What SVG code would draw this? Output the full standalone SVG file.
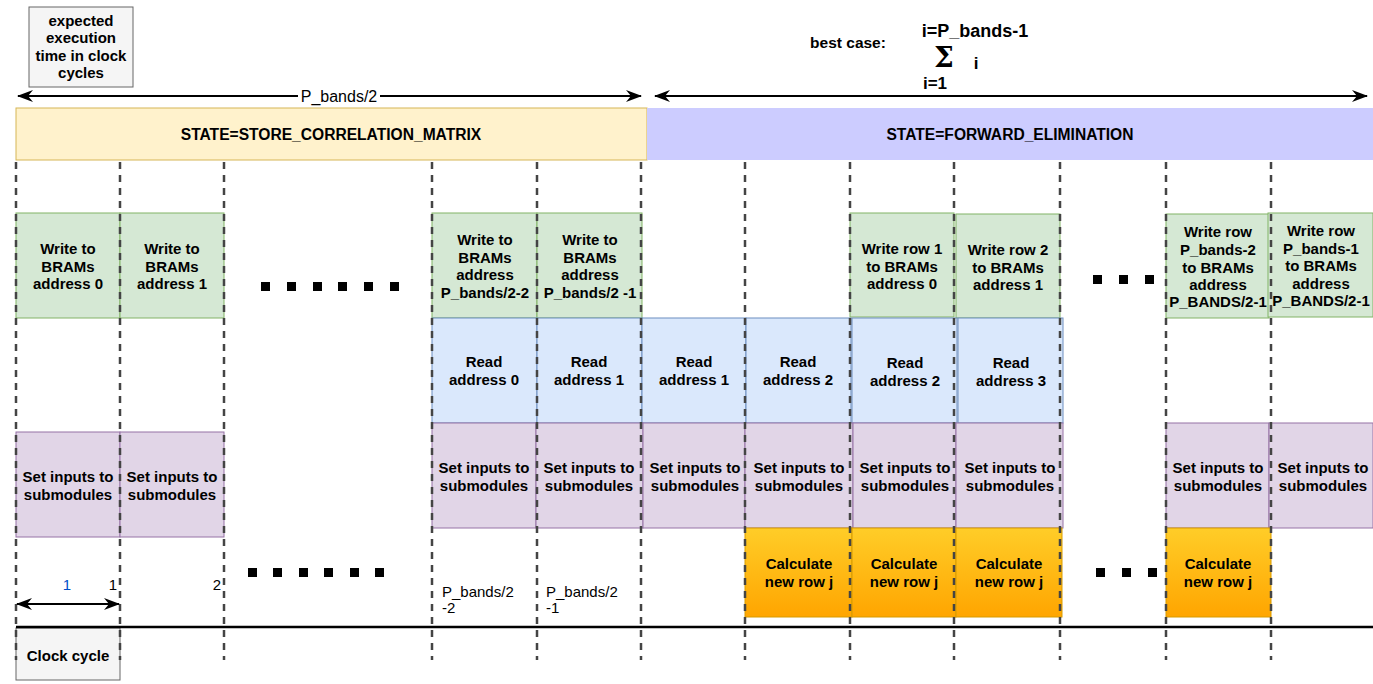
<svg xmlns="http://www.w3.org/2000/svg" width="1373" height="684" viewBox="0 0 1373 684">
<defs>
<style>
text{font-family:"Liberation Sans",Arial,sans-serif;}
.b{font-weight:bold;font-size:15px;fill:#000;text-anchor:middle;}
.n{font-size:15px;fill:#000;}
.g{fill:#d5e8d4;stroke:#82b366;stroke-width:1;}
.bl{fill:#dae8fc;stroke:#6c8ebf;stroke-width:1;}
.p{fill:#e1d5e7;stroke:#9673a6;stroke-width:1;}
.o{fill:url(#og);stroke:#d79b00;stroke-width:1;}
.gr{fill:#f5f5f5;stroke:#666666;stroke-width:1;}
.d{stroke:#444444;stroke-width:2.5;stroke-dasharray:7 6;fill:none;}
.a{stroke:#000;stroke-width:2;fill:none;}
.dot{fill:#000;}
</style>
<linearGradient id="og" x1="0" y1="0" x2="0" y2="1">
<stop offset="0" stop-color="#ffcd28"/>
<stop offset="1" stop-color="#ffa500"/>
</linearGradient>
<marker id="ah2" viewBox="0 0 16 12" refX="15" refY="6" markerWidth="16" markerHeight="12" markerUnits="userSpaceOnUse" orient="auto-start-reverse">
<path d="M0,0 L16,6 L0,12 L5,6 Z" fill="#000"/>
</marker>
</defs>

<g id="states">
<rect x="16" y="108" width="631" height="52" fill="#fff2cc" stroke="#d6b656"/>
<text class="b" x="331" y="140" style="font-size:15.6px">STATE=STORE_CORRELATION_MATRIX</text>
<rect x="647" y="108" width="726" height="52" fill="#ccccff"/>
<text class="b" x="1010" y="140" style="font-size:15.6px">STATE=FORWARD_ELIMINATION</text>
</g>

<g id="exp-time">
<rect class="gr" x="29" y="7" width="104" height="80"/>
<text class="b" x="81" y="26">expected</text>
<text class="b" x="81" y="43">execution</text>
<text class="b" x="81" y="61">time in clock</text>
<text class="b" x="81" y="78">cycles</text>
</g>

<g id="best-case">
<text class="b" x="848" y="48" style="font-size:15.5px">best case:</text>
<text class="b" x="975" y="37" style="font-size:18px">i=P_bands-1</text>
<text x="944" y="67" style="font-size:28px;font-weight:bold;font-family:'DejaVu Serif',serif" text-anchor="middle">Σ</text>
<text class="b" x="976" y="69" style="font-size:17px">i</text>
<text class="b" x="935" y="89" style="font-size:17px">i=1</text>
</g>

<g id="w0"><rect class="g" x="16" y="213" width="104" height="105"/>
<text class="b" x="68" y="254">Write to</text><text class="b" x="68" y="272">BRAMs</text><text class="b" x="68" y="289">address 0</text></g>
<g id="w1"><rect class="g" x="120" y="213" width="104" height="105"/>
<text class="b" x="172" y="254">Write to</text><text class="b" x="172" y="272">BRAMs</text><text class="b" x="172" y="289">address 1</text></g>
<g id="w2"><rect class="g" x="432" y="213" width="105" height="105"/>
<text class="b" x="485" y="245">Write to</text><text class="b" x="485" y="263">BRAMs</text><text class="b" x="485" y="280">address</text><text class="b" x="485" y="298">P_bands/2-2</text></g>
<g id="w3"><rect class="g" x="537" y="213" width="105" height="105"/>
<text class="b" x="590" y="245">Write to</text><text class="b" x="590" y="263">BRAMs</text><text class="b" x="590" y="280">address</text><text class="b" x="590" y="298">P_bands/2 -1</text></g>
<g id="wr1"><rect class="g" x="850" y="213" width="104" height="104"/>
<text class="b" x="902" y="254">Write row 1</text><text class="b" x="902" y="272">to BRAMs</text><text class="b" x="902" y="289">address 0</text></g>
<g id="wr2"><rect class="g" x="956" y="214" width="104" height="104"/>
<text class="b" x="1008" y="255">Write row 2</text><text class="b" x="1008" y="273">to BRAMs</text><text class="b" x="1008" y="290">address 1</text></g>
<g id="wr3"><rect class="g" x="1166" y="214" width="103" height="104"/>
<text class="b" x="1218" y="237">Write row</text><text class="b" x="1218" y="255">P_bands-2</text><text class="b" x="1218" y="273">to BRAMs</text><text class="b" x="1218" y="290">address</text><text class="b" x="1218" y="307">P_BANDS/2-1</text></g>
<g id="wr4"><rect class="g" x="1268" y="213" width="105" height="104"/>
<text class="b" x="1321" y="236">Write row</text><text class="b" x="1321" y="254">P_bands-1</text><text class="b" x="1321" y="271">to BRAMs</text><text class="b" x="1321" y="289">address</text><text class="b" x="1321" y="306">P_BANDS/2-1</text></g>

<g id="r0"><rect class="bl" x="432" y="318" width="105" height="105"/><text class="b" x="484" y="367">Read</text><text class="b" x="484" y="385">address 0</text></g>
<g id="r1"><rect class="bl" x="537" y="318" width="105" height="105"/><text class="b" x="589" y="367">Read</text><text class="b" x="589" y="385">address 1</text></g>
<g id="r2"><rect class="bl" x="642" y="318" width="104" height="105"/><text class="b" x="694" y="367">Read</text><text class="b" x="694" y="385">address 1</text></g>
<g id="r3"><rect class="bl" x="746" y="318" width="105" height="105"/><text class="b" x="798" y="367">Read</text><text class="b" x="798" y="385">address 2</text></g>
<g id="r4"><rect class="bl" x="852" y="318" width="105" height="105"/><text class="b" x="905" y="368">Read</text><text class="b" x="905" y="386">address 2</text></g>
<g id="r5"><rect class="bl" x="958" y="318" width="105" height="105"/><text class="b" x="1011" y="368">Read</text><text class="b" x="1011" y="386">address 3</text></g>

<g id="s0"><rect class="p" x="16" y="432" width="104" height="105"/><text class="b" x="68" y="482">Set inputs to</text><text class="b" x="68" y="500">submodules</text></g>
<g id="s1"><rect class="p" x="120" y="432" width="104" height="105"/><text class="b" x="172" y="482">Set inputs to</text><text class="b" x="172" y="500">submodules</text></g>
<g id="s2"><rect class="p" x="432" y="423" width="104" height="105"/><text class="b" x="484" y="473">Set inputs to</text><text class="b" x="484" y="491">submodules</text></g>
<g id="s3"><rect class="p" x="536" y="423" width="107" height="105"/><text class="b" x="589" y="473">Set inputs to</text><text class="b" x="589" y="491">submodules</text></g>
<g id="s4"><rect class="p" x="643" y="423" width="102" height="105"/><text class="b" x="695" y="473">Set inputs to</text><text class="b" x="695" y="491">submodules</text></g>
<g id="s5"><rect class="p" x="745" y="423" width="108" height="105"/><text class="b" x="799" y="473">Set inputs to</text><text class="b" x="799" y="491">submodules</text></g>
<g id="s6"><rect class="p" x="853" y="423" width="103" height="105"/><text class="b" x="905" y="473">Set inputs to</text><text class="b" x="905" y="491">submodules</text></g>
<g id="s7"><rect class="p" x="956" y="423" width="107" height="105"/><text class="b" x="1010" y="473">Set inputs to</text><text class="b" x="1010" y="491">submodules</text></g>
<g id="s8"><rect class="p" x="1166" y="423" width="103" height="105"/><text class="b" x="1218" y="473">Set inputs to</text><text class="b" x="1218" y="491">submodules</text></g>
<g id="s9"><rect class="p" x="1269" y="423" width="104" height="105"/><text class="b" x="1323" y="473">Set inputs to</text><text class="b" x="1323" y="491">submodules</text></g>

<g id="c0"><rect class="o" x="745" y="528" width="107" height="89"/><text class="b" x="799" y="569">Calculate</text><text class="b" x="799" y="587">new row j</text></g>
<g id="c1"><rect class="o" x="852" y="528" width="104" height="89"/><text class="b" x="904" y="569">Calculate</text><text class="b" x="904" y="587">new row j</text></g>
<g id="c2"><rect class="o" x="956" y="528" width="106" height="89"/><text class="b" x="1009" y="569">Calculate</text><text class="b" x="1009" y="587">new row j</text></g>
<g id="c3"><rect class="o" x="1166" y="528" width="105" height="89"/><text class="b" x="1218" y="569">Calculate</text><text class="b" x="1218" y="587">new row j</text></g>

<g id="clock">
<rect class="gr" x="16" y="628" width="104" height="52"/>
<text class="b" x="68" y="661">Clock cycle</text>
</g>

<g id="connectors">
<g class="d">
<line x1="16" y1="162" x2="16" y2="660"/>
<line x1="120" y1="162" x2="120" y2="660"/>
<line x1="224" y1="162" x2="224" y2="660"/>
<line x1="432" y1="162" x2="432" y2="660"/>
<line x1="537" y1="162" x2="537" y2="660"/>
<line x1="641" y1="162" x2="641" y2="660"/>
<line x1="745" y1="162" x2="745" y2="660"/>
<line x1="850" y1="162" x2="850" y2="660"/>
<line x1="954" y1="162" x2="954" y2="660"/>
<line x1="1060" y1="162" x2="1060" y2="660"/>
<line x1="1166" y1="162" x2="1166" y2="660"/>
<line x1="1271" y1="162" x2="1271" y2="660"/>
</g>
<line class="a" x1="18" y1="96" x2="641" y2="96" marker-start="url(#ah2)" marker-end="url(#ah2)"/>
<rect x="298" y="87" width="82" height="18" fill="#fff"/>
<text class="n" x="339" y="102" text-anchor="middle" style="font-size:16px">P_bands/2</text>
<line class="a" x1="655" y1="96" x2="1367" y2="96" marker-start="url(#ah2)" marker-end="url(#ah2)"/>
<line x1="16" y1="627" x2="1373" y2="627" stroke="#000" stroke-width="2.5"/>
<line class="a" x1="17" y1="604" x2="119" y2="604" marker-start="url(#ah2)" marker-end="url(#ah2)"/>
</g>

<g id="dots">
<rect class="dot" x="261" y="282" width="9" height="9"/><rect class="dot" x="287" y="282" width="9" height="9"/><rect class="dot" x="313" y="282" width="9" height="9"/><rect class="dot" x="338" y="282" width="9" height="9"/><rect class="dot" x="364" y="282" width="9" height="9"/><rect class="dot" x="390" y="282" width="9" height="9"/>
<rect class="dot" x="248" y="568" width="9" height="9"/><rect class="dot" x="273" y="568" width="9" height="9"/><rect class="dot" x="299" y="568" width="9" height="9"/><rect class="dot" x="324" y="568" width="9" height="9"/><rect class="dot" x="350" y="568" width="9" height="9"/><rect class="dot" x="375" y="568" width="9" height="9"/>
<rect class="dot" x="1093" y="275" width="9" height="9"/><rect class="dot" x="1119" y="275" width="9" height="9"/><rect class="dot" x="1145" y="275" width="9" height="9"/>
<rect class="dot" x="1096" y="568" width="9" height="9"/><rect class="dot" x="1122" y="568" width="9" height="9"/><rect class="dot" x="1148" y="568" width="9" height="9"/>
</g>

<g id="labels">
<text class="n" x="67" y="590" text-anchor="middle" style="fill:#0050c8">1</text>
<text class="n" x="113" y="590" text-anchor="middle">1</text>
<text class="n" x="217" y="590" text-anchor="middle">2</text>
<text class="n" x="442" y="597">P_bands/2</text>
<text class="n" x="442" y="613">-2</text>
<text class="n" x="546" y="597">P_bands/2</text>
<text class="n" x="546" y="613">-1</text>
</g>
</svg>
